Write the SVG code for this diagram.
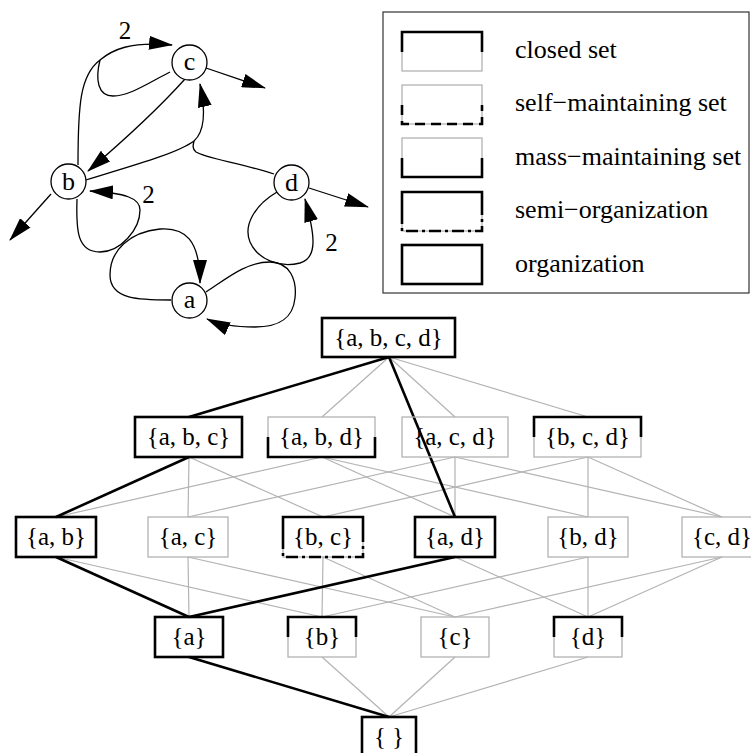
<svg xmlns="http://www.w3.org/2000/svg" width="751" height="753" viewBox="0 0 751 753" font-family="'Liberation Serif', Tinos, 'DejaVu Serif', 'Noto Serif', serif">
<style>
text{font-family:'Liberation Serif',Tinos,'DejaVu Serif','Noto Serif',serif;fill:#000}
.lat{font-size:25px;text-anchor:middle}
.leg{font-size:26px}
.nl{font-size:26px;text-anchor:middle}
.num{font-size:25px;text-anchor:middle}
.g{stroke:#b3b3b3;stroke-width:1.2;fill:none}
.k{stroke:#000;stroke-width:2.6;fill:none}
.gb{fill:none;stroke:#b3b3b3;stroke-width:1.3}
.kb{fill:none;stroke:#000;stroke-width:2.6}
.dash{stroke-dasharray:10 6}
.dd{stroke-dasharray:12 4 3 4}
.cv{fill:none;stroke:#000;stroke-width:1.3;marker-end:url(#ah)}
.cn{fill:none;stroke:#000;stroke-width:1.3}
.circ{fill:#fff;stroke:#000;stroke-width:1.3}
</style>
<defs>
<marker id="ah" markerUnits="userSpaceOnUse" markerWidth="24" markerHeight="14" viewBox="0 0 24 14" refX="23" refY="7" orient="auto">
<path d="M0,0 L24,7 L0,14 z" fill="#000"/>
</marker>
</defs>

<g id="network-edges">
<path class="cv" d="M78,165 C78,105 80,75 100,60 C112,50 130,41 172,45"/>
<path class="cn" d="M170,72 C150,82 130,96 113,96 C98,96 95,80 100,60"/>
<path class="cv" d="M185,79 Q150,118 88,171"/>
<path class="cv" d="M86,180 C135,165 178,153 194,141 C204,132 206,112 200,84"/>
<path class="cn" d="M274,174 C240,163 205,158 196,152 C192,149 193,145 194,141"/>
<path class="cv" d="M51,194 L10,240"/>
<path class="cv" d="M206,68 L265,88"/>
<path class="cv" d="M309,188 L368,207"/>
<path class="cv" d="M77,199 C76,230 77,252 100,252 C120,252 140,230 140,210 C140,198 125,193 90,191"/>
<path class="cv" d="M171,300 C140,300 110,300 110,275 C110,250 130,232 160,229 C185,227 200,240 200,283"/>
<path class="cv" d="M206,292 C225,280 245,262 270,262 C290,262 297,280 295,298 C293,318 280,327 255,327 C240,327 222,326 207,319"/>
<path class="cv" d="M277,192 C255,205 243,225 250,242 C258,260 280,268 300,263 C318,258 315,235 305,199"/>
<text class="num" x="125" y="39">2</text>
<text class="num" x="148.5" y="203">2</text>
<text class="num" x="331.5" y="251">2</text>
</g>
<g id="species-c"><circle class="circ" cx="189.5" cy="62.5" r="17.5"/><text class="nl" x="189.5" y="70">c</text></g>
<g id="species-b"><circle class="circ" cx="68.5" cy="181.5" r="17.5"/><text class="nl" x="68.5" y="190">b</text></g>
<g id="species-d"><circle class="circ" cx="291.5" cy="182.5" r="17.5"/><text class="nl" x="291.5" y="191">d</text></g>
<g id="species-a"><circle class="circ" cx="189.5" cy="300.5" r="17.5"/><text class="nl" x="189.5" y="308">a</text></g>

<g id="legend">
<rect x="383" y="12" width="366" height="281" fill="none" stroke="#333" stroke-width="1.2"/>
<g id="legend-closed">
<rect class="gb" x="402" y="32" width="80" height="39"/>
<path class="k" d="M402,52 V32 H482 V52"/>
<text class="leg" x="515" y="58">closed set</text>
</g>
<g id="legend-self">
<rect class="gb" x="402" y="85" width="80" height="39"/>
<path class="k dash" d="M402,105 V124 H482 V105"/>
<text class="leg" x="515" y="111">self−maintaining set</text>
</g>
<g id="legend-mass">
<rect class="gb" x="402" y="138" width="80" height="39"/>
<path class="k" d="M402,158 V177 H482 V158"/>
<text class="leg" x="515" y="165">mass−maintaining set</text>
</g>
<g id="legend-semi">
<rect class="gb" x="402" y="192" width="80" height="39"/>
<path class="k" d="M402,212 V192 H482 V212"/>
<path class="k dd" d="M402,212 V231 H482 V212"/>
<text class="leg" x="515" y="218">semi−organization</text>
</g>
<g id="legend-org">
<rect class="kb" x="402" y="245" width="80" height="39"/>
<text class="leg" x="515" y="272">organization</text>
</g>
</g>

<g id="lattice-edges">
<g class="g">
<line x1="389" y1="357" x2="322" y2="417"/>
<line x1="389" y1="357" x2="455" y2="417"/>
<line x1="389" y1="357" x2="588" y2="417"/>
<line x1="189" y1="457" x2="188" y2="517"/>
<line x1="189" y1="457" x2="323" y2="517"/>
<line x1="322" y1="457" x2="56" y2="517"/>
<line x1="322" y1="457" x2="455" y2="517"/>
<line x1="322" y1="457" x2="588" y2="517"/>
<line x1="455" y1="457" x2="188" y2="517"/>
<line x1="455" y1="457" x2="455" y2="517"/>
<line x1="455" y1="457" x2="722" y2="517"/>
<line x1="588" y1="457" x2="323" y2="517"/>
<line x1="588" y1="457" x2="588" y2="517"/>
<line x1="588" y1="457" x2="722" y2="517"/>
<line x1="56" y1="557" x2="322" y2="617"/>
<line x1="188" y1="557" x2="189" y2="617"/>
<line x1="188" y1="557" x2="455" y2="617"/>
<line x1="323" y1="557" x2="322" y2="617"/>
<line x1="323" y1="557" x2="455" y2="617"/>
<line x1="455" y1="557" x2="588" y2="617"/>
<line x1="588" y1="557" x2="322" y2="617"/>
<line x1="588" y1="557" x2="588" y2="617"/>
<line x1="722" y1="557" x2="455" y2="617"/>
<line x1="722" y1="557" x2="588" y2="617"/>
<line x1="322" y1="657" x2="389" y2="717"/>
<line x1="455" y1="657" x2="389" y2="717"/>
<line x1="588" y1="657" x2="389" y2="717"/>
</g>
<g class="k">
<line x1="389" y1="357" x2="189" y2="417"/>
<line x1="389" y1="357" x2="455" y2="517"/>
<line x1="189" y1="457" x2="56" y2="517"/>
<line x1="56" y1="557" x2="189" y2="617"/>
<line x1="455" y1="557" x2="189" y2="617"/>
<line x1="189" y1="657" x2="389" y2="717"/>
</g>
</g>

<g id="set-abcd"><rect class="kb" x="322" y="318" width="133" height="39"/><text class="lat" x="388.5" y="346">{a, b, c, d}</text></g>
<g id="set-abc"><rect class="kb" x="135" y="417" width="107" height="40"/><text class="lat" x="188.5" y="445">{a, b, c}</text></g>
<g id="set-abd"><rect class="gb" x="268" y="417" width="107" height="40"/><path class="k" d="M268,437 V457 H375 V437"/><text class="lat" x="321.5" y="445">{a, b, d}</text></g>
<g id="set-acd"><rect class="gb" x="402" y="417" width="106" height="40"/><text class="lat" x="455" y="445">{a, c, d}</text></g>
<g id="set-bcd"><rect class="gb" x="534" y="417" width="107" height="40"/><path class="k" d="M534,437 V417 H641 V437"/><text class="lat" x="587.5" y="445">{b, c, d}</text></g>
<g id="set-ab"><rect class="kb" x="16" y="517" width="80" height="40"/><text class="lat" x="56" y="545">{a, b}</text></g>
<g id="set-ac"><rect class="gb" x="148" y="517" width="80" height="40"/><text class="lat" x="188" y="545">{a, c}</text></g>
<g id="set-bc"><rect class="gb" x="283" y="517" width="80" height="40"/><path class="k" d="M283,537 V517 H363 V537"/><path class="k dd" d="M283,537 V557 H363 V537"/><text class="lat" x="323" y="545">{b, c}</text></g>
<g id="set-ad"><rect class="kb" x="415" y="517" width="80" height="40"/><text class="lat" x="455" y="545">{a, d}</text></g>
<g id="set-bd"><rect class="gb" x="548" y="517" width="80" height="40"/><text class="lat" x="588" y="545">{b, d}</text></g>
<g id="set-cd"><rect class="gb" x="682" y="517" width="80" height="40"/><text class="lat" x="722" y="545">{c, d}</text></g>
<g id="set-a"><rect class="kb" x="155" y="617" width="68" height="40"/><text class="lat" x="189" y="645">{a}</text></g>
<g id="set-b"><rect class="gb" x="288" y="617" width="68" height="40"/><path class="k" d="M288,637 V617 H356 V637"/><text class="lat" x="322" y="645">{b}</text></g>
<g id="set-c"><rect class="gb" x="421" y="617" width="68" height="40"/><text class="lat" x="455" y="645">{c}</text></g>
<g id="set-d"><rect class="gb" x="554" y="617" width="68" height="40"/><path class="k" d="M554,637 V617 H622 V637"/><text class="lat" x="588" y="645">{d}</text></g>
<g id="set-empty"><rect class="kb" x="362" y="717" width="54" height="40"/><text class="lat" x="389" y="745">{ }</text></g>
</svg>
